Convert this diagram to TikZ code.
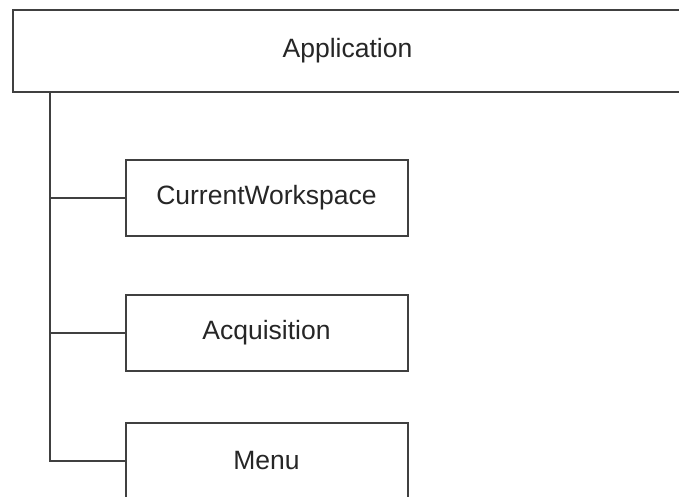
\documentclass[tikz,border=0pt]{standalone}
\usepackage{fontspec}
\setmainfont{Liberation Sans}
\usetikzlibrary{positioning}

\begin{document}
\begin{tikzpicture}[
   x=0.5pt, y=-0.5pt,
   box/.style={draw=black!75, line width=1pt, fill=white, inner sep=0pt,
               minimum width=141pt, minimum height=38pt, text=black!85,
               font=\fontsize{13.25}{16}\selectfont},
   link/.style={draw=black!75, line width=1pt}]
  \useasboundingbox (0,0) rectangle (679,497);
  \node[box, minimum width=334.5pt, minimum height=41pt] (app) at (347.5,51) {Application};
  \node[box] (ws)   at (266.5,198) {CurrentWorkspace};
  \node[box] (acq)  at (266.5,333) {Acquisition};
  \node[box] (menu) at (266.5,461) {Menu};
  \coordinate (t) at (50,92);
  \draw[link] (t) |- (menu.west);
  \foreach \n in {ws,acq} {\draw[link] (t |- \n.west) -- (\n.west);}
\end{tikzpicture}
\end{document}
